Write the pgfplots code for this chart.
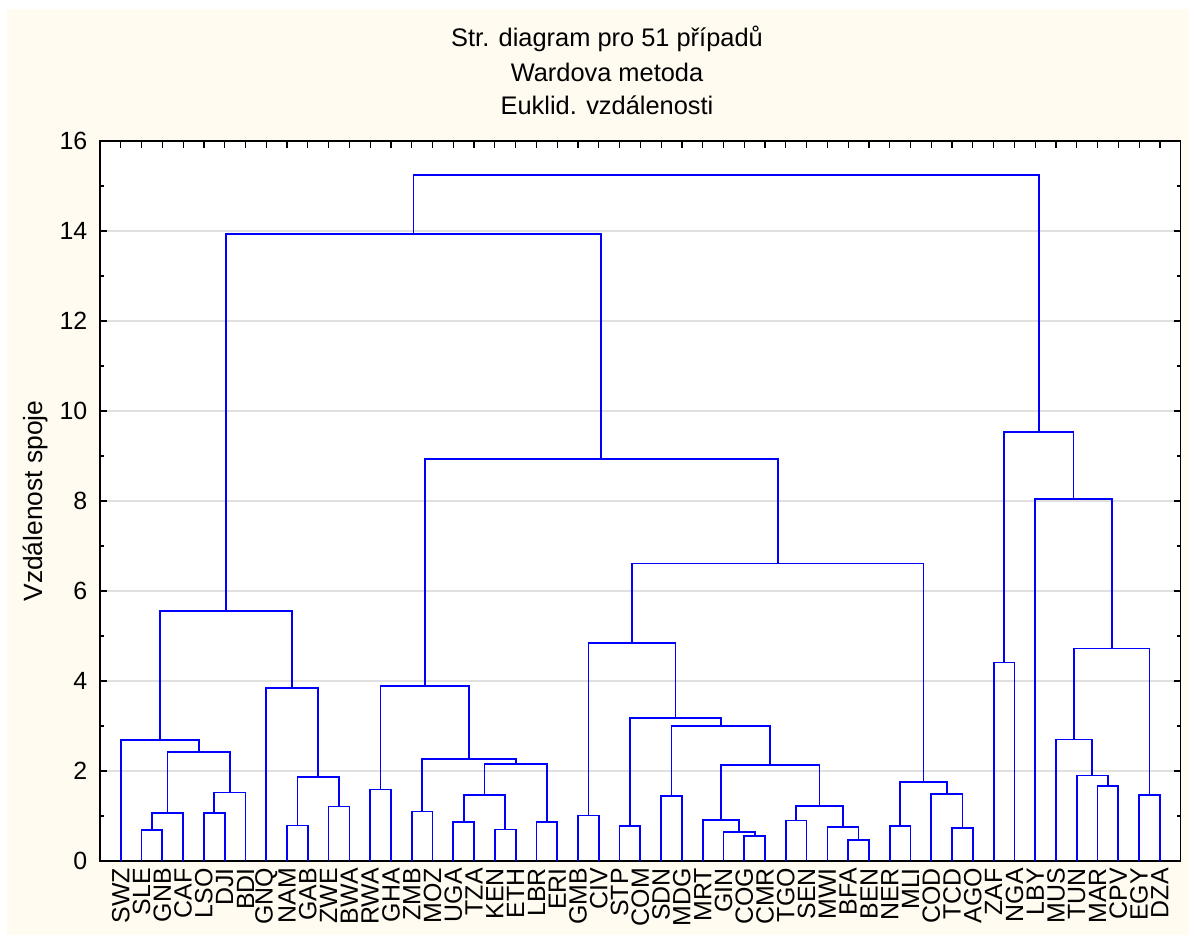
\documentclass[border=0pt]{standalone}
\usepackage{fontspec}
\setmainfont{Liberation Sans}
\usepackage{pgfplots}
\pgfplotsset{compat=1.18}
\definecolor{cream}{RGB}{255,251,240}
\pgfplotsset{dendro/.style={color=blue, line width=1.75bp, mark=none}}
\begin{document}
\begin{tikzpicture}
\fill[white] (0bp,0bp) rectangle (1196bp,938bp);
\fill[cream] (7bp,3bp) rectangle (1189bp,929bp);
\node[font=\fontsize{25.5}{30}\selectfont, anchor=base] at (607bp,891bp) {Str. diagram pro 51 případů};
\node[font=\fontsize{25.5}{30}\selectfont, anchor=base] at (607bp,856bp) {Wardova metoda};
\node[font=\fontsize{25.5}{30}\selectfont, anchor=base] at (607bp,823bp) {Euklid. vzdálenosti};
\begin{axis}[
  at={(100bp,77bp)}, anchor=south west,
  scale only axis, width=1080.7bp, height=720bp,
  xmin=-1, xmax=51, ymin=0, ymax=16,
  axis background/.style={fill=white},
  axis line style={line width=1.4bp, black},
  xtick={0,...,50},
  xticklabels={SWZ,SLE,GNB,CAF,LSO,DJI,BDI,GNQ,NAM,GAB,ZWE,BWA,RWA,GHA,ZMB,MOZ,UGA,TZA,KEN,ETH,LBR,ERI,GMB,CIV,STP,COM,SDN,MDG,MRT,GIN,COG,CMR,TGO,SEN,MWI,BFA,BEN,NER,MLI,COD,TCD,AGO,ZAF,NGA,LBY,MUS,TUN,MAR,CPV,EGY,DZA},
  xticklabel style={rotate=90, anchor=east, inner sep=0pt, font=\fontsize{25}{25}\selectfont},
  xticklabel shift=7bp,
  ytick={0,2,...,16},
  minor ytick={1,3,...,15},
  yticklabel style={anchor=east, inner sep=0pt, xshift=-12.5bp, font=\fontsize{25}{25}\selectfont},
  /pgf/number format/assume math mode=true,
  ymajorgrids, grid style={black!12, line width=1.1bp},
  major tick length=7bp, minor tick length=4bp,
  tick style={black, line width=1.2bp},
  tick align=inside,
  ylabel={Vzdálenost spoje},
  ylabel style={at={(axis description cs:-0.0592,0.5)}, anchor=center, font=\fontsize{26.5}{26.5}\selectfont},
]
% left group
\addplot[dendro] coordinates {(1,0)(1,0.69)(2,0.69)(2,0)};
\addplot[dendro] coordinates {(1.5,0.69)(1.5,1.07)(3,1.07)(3,0)};
\addplot[dendro] coordinates {(4,0)(4,1.06)(5,1.06)(5,0)};
\addplot[dendro] coordinates {(4.5,1.06)(4.5,1.52)(6,1.52)(6,0)};
\addplot[dendro] coordinates {(2.25,1.07)(2.25,2.43)(5.25,2.43)(5.25,1.52)};
\addplot[dendro] coordinates {(0,0)(0,2.69)(3.75,2.69)(3.75,2.43)};
\addplot[dendro] coordinates {(8,0)(8,0.79)(9,0.79)(9,0)};
\addplot[dendro] coordinates {(10,0)(10,1.21)(11,1.21)(11,0)};
\addplot[dendro] coordinates {(8.5,0.79)(8.5,1.86)(10.5,1.86)(10.5,1.21)};
\addplot[dendro] coordinates {(7,0)(7,3.85)(9.5,3.85)(9.5,1.86)};
\addplot[dendro] coordinates {(1.875,2.69)(1.875,5.56)(8.25,5.56)(8.25,3.85)};
% middle group D
\addplot[dendro] coordinates {(12,0)(12,1.59)(13,1.59)(13,0)};
\addplot[dendro] coordinates {(14,0)(14,1.10)(15,1.10)(15,0)};
\addplot[dendro] coordinates {(16,0)(16,0.87)(17,0.87)(17,0)};
\addplot[dendro] coordinates {(18,0)(18,0.70)(19,0.70)(19,0)};
\addplot[dendro] coordinates {(16.5,0.87)(16.5,1.47)(18.5,1.47)(18.5,0.70)};
\addplot[dendro] coordinates {(20,0)(20,0.87)(21,0.87)(21,0)};
\addplot[dendro] coordinates {(17.5,1.47)(17.5,2.16)(20.5,2.16)(20.5,0.87)};
\addplot[dendro] coordinates {(14.5,1.10)(14.5,2.26)(19,2.26)(19,2.16)};
\addplot[dendro] coordinates {(12.5,1.59)(12.5,3.89)(16.75,3.89)(16.75,2.26)};
% group E
\addplot[dendro] coordinates {(22,0)(22,1.01)(23,1.01)(23,0)};
\addplot[dendro] coordinates {(24,0)(24,0.78)(25,0.78)(25,0)};
\addplot[dendro] coordinates {(26,0)(26,1.45)(27,1.45)(27,0)};
\addplot[dendro] coordinates {(30,0)(30,0.55)(31,0.55)(31,0)};
\addplot[dendro] coordinates {(29,0)(29,0.65)(30.5,0.65)(30.5,0.55)};
\addplot[dendro] coordinates {(28,0)(28,0.91)(29.75,0.91)(29.75,0.65)};
\addplot[dendro] coordinates {(32,0)(32,0.90)(33,0.90)(33,0)};
\addplot[dendro] coordinates {(35,0)(35,0.47)(36,0.47)(36,0)};
\addplot[dendro] coordinates {(34,0)(34,0.76)(35.5,0.76)(35.5,0.47)};
\addplot[dendro] coordinates {(32.5,0.90)(32.5,1.22)(34.75,1.22)(34.75,0.76)};
\addplot[dendro] coordinates {(28.875,0.91)(28.875,2.14)(33.625,2.14)(33.625,1.22)};
\addplot[dendro] coordinates {(26.5,1.45)(26.5,3.00)(31.25,3.00)(31.25,2.14)};
\addplot[dendro] coordinates {(24.5,0.78)(24.5,3.18)(28.875,3.18)(28.875,3.00)};
\addplot[dendro] coordinates {(22.5,1.01)(22.5,4.85)(26.6875,4.85)(26.6875,3.18)};
% group F
\addplot[dendro] coordinates {(37,0)(37,0.78)(38,0.78)(38,0)};
\addplot[dendro] coordinates {(40,0)(40,0.74)(41,0.74)(41,0)};
\addplot[dendro] coordinates {(39,0)(39,1.49)(40.5,1.49)(40.5,0.74)};
\addplot[dendro] coordinates {(37.5,0.78)(37.5,1.76)(39.75,1.76)(39.75,1.49)};
% upper joins
\addplot[dendro] coordinates {(24.59375,4.85)(24.59375,6.61)(38.625,6.61)(38.625,1.76)};
\addplot[dendro] coordinates {(14.625,3.89)(14.625,8.93)(31.609375,8.93)(31.609375,6.61)};
\addplot[dendro] coordinates {(5.0625,5.56)(5.0625,13.93)(23.1171875,13.93)(23.1171875,8.93)};
% right group
\addplot[dendro] coordinates {(42,0)(42,4.41)(43,4.41)(43,0)};
\addplot[dendro] coordinates {(47,0)(47,1.66)(48,1.66)(48,0)};
\addplot[dendro] coordinates {(46,0)(46,1.90)(47.5,1.90)(47.5,1.66)};
\addplot[dendro] coordinates {(45,0)(45,2.70)(46.75,2.70)(46.75,1.90)};
\addplot[dendro] coordinates {(49,0)(49,1.47)(50,1.47)(50,0)};
\addplot[dendro] coordinates {(45.875,2.70)(45.875,4.72)(49.5,4.72)(49.5,1.47)};
\addplot[dendro] coordinates {(44,0)(44,8.04)(47.6875,8.04)(47.6875,4.72)};
\addplot[dendro] coordinates {(42.5,4.41)(42.5,9.54)(45.84375,9.54)(45.84375,8.04)};
% top
\addplot[dendro] coordinates {(14.08984375,13.93)(14.08984375,15.24)(44.171875,15.24)(44.171875,9.54)};
\end{axis}
\end{tikzpicture}
\end{document}
